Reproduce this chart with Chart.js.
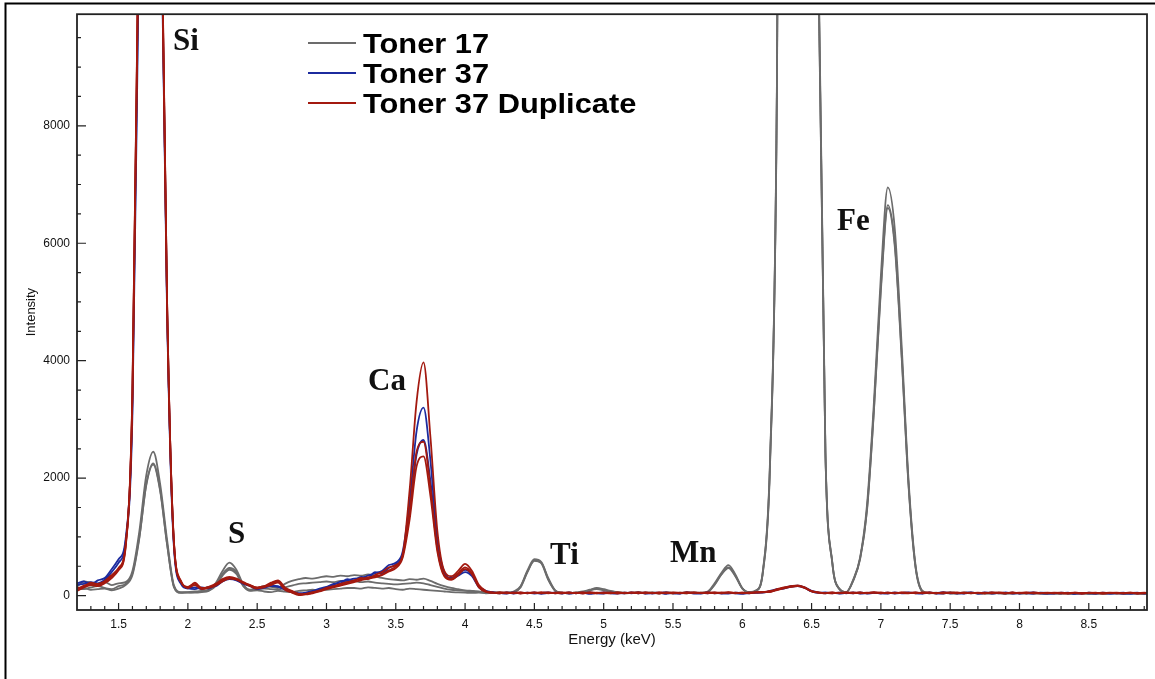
<!DOCTYPE html>
<html>
<head>
<meta charset="utf-8">
<title>Toner XRF spectra</title>
<script src="https://cdn.jsdelivr.net/npm/chart.js@4.4.0/dist/chart.umd.min.js"></script>
<style>
  html, body { margin: 0; padding: 0; background: #fff; }
  #spectrum { display: block; }
</style>
</head>
<body>
<canvas id="spectrum" width="1155" height="679"></canvas>
<script>
// energy grid shared by every run (keV)
const energyKeV = [
  1.20, 1.25, 1.30, 1.35, 1.40, 1.45, 1.50, 1.55, 1.60, 1.65,
  1.70, 1.75, 1.80, 1.85, 1.90, 1.95, 2.00, 2.05, 2.10, 2.15,
  2.20, 2.25, 2.30, 2.35, 2.40, 2.45, 2.50, 2.55, 2.60, 2.65,
  2.70, 2.75, 2.80, 2.85, 2.90, 2.95, 3.00, 3.05, 3.10, 3.15,
  3.20, 3.25, 3.30, 3.35, 3.40, 3.45, 3.50, 3.55, 3.60, 3.65,
  3.70, 3.75, 3.80, 3.85, 3.90, 3.95, 4.00, 4.05, 4.10, 4.15,
  4.20, 4.25, 4.30, 4.35, 4.40, 4.45, 4.50, 4.55, 4.60, 4.65,
  4.70, 4.75, 4.80, 4.85, 4.90, 4.95, 5.00, 5.05, 5.10, 5.15,
  5.20, 5.25, 5.30, 5.35, 5.40, 5.45, 5.50, 5.55, 5.60, 5.65,
  5.70, 5.75, 5.80, 5.85, 5.90, 5.95, 6.00, 6.05, 6.10, 6.15,
  6.20, 6.25, 6.30, 6.35, 6.40, 6.45, 6.50, 6.55, 6.60, 6.65,
  6.70, 6.75, 6.80, 6.85, 6.90, 6.95, 7.00, 7.05, 7.10, 7.15,
  7.20, 7.25, 7.30, 7.35, 7.40, 7.45, 7.50, 7.55, 7.60, 7.65,
  7.70, 7.75, 7.80, 7.85, 7.90, 7.95, 8.00, 8.05, 8.10, 8.15,
  8.20, 8.25, 8.30, 8.35, 8.40, 8.45, 8.50, 8.55, 8.60, 8.65,
  8.70, 8.75, 8.80, 8.85, 8.90, 8.95,
];

// Toner 17 runs
const toner17A = [
  150, 240, 220, 200, 230, 180, 210, 230, 420, 1100,
  2050, 2450, 1900, 950, 170, 60, 60, 70, 80, 100,
  210, 420, 560, 440, 190, 100, 130, 160, 150, 130,
  200, 250, 280, 300, 290, 310, 330, 320, 340, 330,
  350, 340, 360, 330, 300, 280, 270, 260, 280, 270,
  290, 250, 200, 160, 130, 110, 90, 80, 70, 60,
  50, 60, 45, 70, 160, 430, 620, 570, 300, 90,
  50, 40, 55, 70, 100, 130, 110, 80, 60, 50,
  45, 60, 40, 50, 35, 55, 45, 40, 60, 45,
  50, 70, 210, 390, 520, 360, 130, 60, 90, 450,
  2300, 8800, 32000, 52000, 58000, 46000, 24000, 10800, 2450, 560,
  120, 60, 270, 650, 1550, 3300, 5450, 6950, 6250, 4250,
  1950, 520, 80, 40, 50, 35, 55, 45, 40, 50,
  35, 45, 50, 40, 30, 45, 40, 35, 50, 40,
  30, 45, 35, 40, 30, 45, 35, 30, 40, 35,
  45, 30, 40, 35, 30, 40,
];
const toner17B = [
  120, 110, 140, 160, 130, 110, 160, 200, 380, 1000,
  1900, 2250, 1800, 880, 150, 50, 50, 60, 70, 90,
  180, 370, 470, 400, 170, 90, 110, 120, 110, 100,
  140, 170, 200, 210, 220, 230, 240, 230, 250, 240,
  250, 230, 240, 220, 210, 200, 190, 200, 210, 220,
  210, 180, 150, 120, 100, 90, 80, 70, 60, 50,
  55, 45, 50, 60, 140, 400, 590, 560, 280, 80,
  40, 50, 45, 60, 90, 120, 100, 70, 55, 45,
  50, 40, 55, 45, 40, 50, 35, 50, 45, 55,
  45, 60, 180, 360, 470, 330, 120, 55, 80, 420,
  2200, 8600, 31000, 51000, 57000, 45000, 23500, 10500, 2380, 540,
  110, 55, 250, 620, 1450, 3150, 5200, 6600, 5950, 4050,
  1850, 480, 70, 45, 40, 50, 35, 40, 55, 45,
  40, 35, 45, 50, 40, 35, 45, 40, 35, 45,
  40, 35, 45, 30, 40, 35, 40, 45, 30, 40,
  35, 40, 30, 45, 35, 35,
];
const toner17C = [
  90, 130, 100, 110, 120, 90, 120, 180, 350, 980,
  1880, 2230, 1780, 870, 140, 45, 55, 50, 60, 80,
  160, 340, 440, 370, 160, 80, 90, 70, 60, 80,
  70, 60, 80, 90, 100, 90, 100, 110, 120, 130,
  130, 120, 140, 130, 120, 130, 110, 100, 120, 110,
  100, 90, 80, 70, 60, 55, 50, 45, 50, 40,
  45, 40, 50, 55, 150, 410, 600, 550, 270, 85,
  45, 40, 50, 55, 95, 110, 90, 65, 50, 40,
  45, 50, 40, 55, 45, 40, 50, 45, 40, 50,
  40, 55, 190, 370, 480, 340, 125, 50, 85, 430,
  2250, 8700, 31500, 51500, 57500, 45500, 23700, 10600, 2400, 550,
  115, 58, 260, 630, 1480, 3180, 5250, 6650, 6000, 4100,
  1880, 490, 75, 40, 45, 40, 50, 35, 45, 40,
  45, 40, 35, 45, 40, 50, 35, 45, 40, 35,
  35, 40, 30, 45, 35, 40, 30, 40, 35, 45,
  40, 35, 45, 30, 40, 35,
];

// Toner 37 runs
const toner37A = [
  210, 240, 190, 260, 300, 450, 620, 950, 3300, 12000,
  19500, 21000, 13200, 4900, 850, 220, 130, 110, 140, 120,
  180, 260, 300, 270, 210, 170, 120, 130, 170, 160,
  110, 70, 40, 50, 80, 120, 150, 180, 240, 260,
  290, 300, 340, 380, 420, 520, 560, 750, 1600, 2800,
  3200, 2300, 950, 400, 300, 370, 440, 360, 160, 80,
  60, 40, 55, 35, 50, 40, 55, 30, 45, 50,
  35, 55, 40, 50, 30, 45, 55, 40, 35, 50,
  40, 55, 35, 45, 50, 30, 45, 40, 55, 35,
  45, 40, 50, 35, 45, 40, 30, 50, 45, 60,
  70, 100, 130, 160, 170, 140, 80, 55, 40, 50,
  35, 45, 40, 55, 35, 45, 40, 50, 35, 45,
  55, 40, 35, 50, 45, 60, 40, 45, 35, 50,
  40, 55, 35, 45, 40, 50, 35, 45, 55, 40,
  35, 45, 40, 50, 30, 45, 40, 35, 50, 40,
  45, 35, 40, 50, 35, 45,
];
const toner37B = [
  180, 200, 230, 210, 270, 400, 560, 900, 3100, 11500,
  19000, 20500, 13000, 4800, 800, 200, 120, 140, 110, 150,
  160, 240, 280, 260, 200, 160, 110, 150, 160, 150,
  100, 60, 30, 40, 70, 100, 140, 200, 210, 280,
  260, 320, 300, 400, 380, 470, 530, 700, 1400, 2400,
  2650, 1950, 850, 380, 280, 340, 400, 330, 140, 70,
  50, 45, 35, 55, 40, 50, 35, 45, 55, 40,
  50, 35, 45, 40, 55, 40, 35, 50, 45, 40,
  55, 40, 50, 35, 45, 55, 40, 35, 50, 45,
  35, 55, 40, 45, 35, 50, 45, 40, 55, 50,
  80, 110, 120, 150, 160, 130, 70, 45, 55, 40,
  50, 40, 55, 35, 45, 50, 40, 35, 55, 40,
  45, 50, 40, 55, 35, 40, 50, 35, 45, 55,
  35, 45, 50, 40, 55, 35, 45, 40, 35, 50,
  45, 35, 50, 40, 45, 35, 50, 40, 45, 35,
  40, 50, 35, 40, 45, 40,
];

// Toner 37 duplicate runs
const toner37DupA = [
  100, 170, 200, 180, 230, 330, 450, 820, 3500, 12500,
  20000, 21500, 13500, 5000, 900, 250, 140, 220, 120, 150,
  200, 280, 320, 290, 220, 180, 130, 140, 200, 240,
  120, 60, 20, 30, 60, 80, 130, 160, 200, 230,
  250, 300, 280, 350, 400, 480, 520, 700, 1800, 3300,
  3970, 2700, 1100, 420, 330, 420, 540, 420, 180, 80,
  45, 60, 40, 55, 35, 50, 45, 60, 40, 50,
  55, 40, 50, 35, 60, 45, 40, 55, 35, 50,
  45, 60, 40, 50, 35, 55, 45, 40, 60, 45,
  50, 40, 55, 45, 60, 40, 50, 45, 55, 65,
  60, 110, 140, 160, 175, 140, 75, 50, 45, 55,
  40, 50, 45, 55, 40, 60, 45, 50, 40, 55,
  45, 55, 40, 50, 45, 40, 55, 45, 50, 40,
  50, 40, 55, 45, 40, 50, 45, 55, 40, 45,
  40, 50, 45, 35, 50, 40, 45, 50, 35, 45,
  50, 40, 45, 40, 50, 40,
];
const toner37DupB = [
  130, 150, 220, 200, 250, 350, 470, 850, 3400, 12300,
  19800, 21200, 13300, 4950, 880, 230, 150, 200, 130, 140,
  190, 250, 300, 280, 230, 170, 140, 160, 220, 260,
  140, 80, 30, 20, 50, 90, 120, 150, 180, 220,
  260, 280, 310, 330, 360, 430, 500, 680, 1450, 2450,
  2620, 1850, 800, 350, 290, 380, 480, 380, 150, 70,
  55, 40, 50, 45, 55, 40, 50, 45, 55, 40,
  45, 55, 40, 50, 45, 40, 55, 45, 50, 40,
  55, 45, 50, 40, 55, 45, 40, 50, 45, 55,
  45, 50, 40, 55, 45, 50, 40, 55, 50, 60,
  80, 100, 130, 150, 165, 135, 70, 55, 40, 50,
  45, 55, 40, 50, 45, 55, 40, 50, 45, 50,
  50, 40, 55, 45, 40, 55, 45, 40, 50, 45,
  45, 50, 40, 55, 45, 40, 50, 40, 55, 45,
  45, 40, 50, 40, 45, 35, 50, 45, 40, 50,
  40, 45, 50, 35, 45, 40,
];
const toner37DupC = [
  80, 140, 180, 160, 210, 300, 430, 800, 3450, 12400,
  19900, 21300, 13400, 5000, 870, 240, 130, 180, 110, 130,
  170, 240, 290, 270, 210, 160, 120, 150, 180, 220,
  100, 50, 10, 25, 40, 70, 110, 140, 170, 200,
  230, 260, 290, 310, 350, 410, 470, 650, 1300, 2200,
  2370, 1700, 750, 330, 270, 350, 450, 360, 140, 65,
  50, 45, 55, 40, 50, 45, 55, 40, 50, 45,
  40, 50, 45, 55, 40, 50, 45, 40, 55, 45,
  50, 40, 55, 45, 50, 40, 55, 45, 40, 50,
  45, 55, 50, 40, 55, 45, 50, 40, 60, 55,
  70, 95, 125, 155, 160, 130, 75, 50, 45, 40,
  50, 45, 55, 40, 50, 45, 55, 40, 50, 45,
  40, 50, 45, 55, 40, 50, 45, 55, 40, 50,
  45, 40, 50, 45, 40, 55, 40, 50, 45, 40,
  50, 45, 40, 45, 50, 40, 45, 40, 50, 45,
  45, 40, 50, 45, 40, 45,
];

const xTickValues = [1.5, 2, 2.5, 3, 3.5, 4, 4.5, 5, 5.5, 6, 6.5, 7, 7.5, 8, 8.5];
const yTickValues = [0, 2000, 4000, 6000, 8000];

const seriesNames = ['Toner 17', 'Toner 37', 'Toner 37 Duplicate'];

// element labels, anchored at the baseline-left of each word
const peakLabels = ['Si', 'S', 'Ca', 'Ti', 'Mn', 'Fe'];
const peakLabelEnergy = [1.893, 2.289, 3.30, 4.613, 5.478, 6.683];
const peakLabelIntensity = [9283, 895, 3493, 546, 571, 6226];

const colorPalette = {
  toner17: '#6c6c6c',
  toner37: '#1c2b9e',
  toner37Dup: '#a3190f',
  frame: '#222',
  text: '#111',
};

const sansFont = '"Liberation Sans", Arial, Helvetica, sans-serif';
const serifFont = '"Liberation Serif", "Times New Roman", serif';

Chart.defaults.font.family = sansFont;
Chart.defaults.color = colorPalette.text;

function toPoints(values) {
  return energyKeV.map((x, i) => ({ x, y: values[i] }));
}

function makeRun(label, values, color, order) {
  return {
    label,
    data: toPoints(values),
    borderColor: color,
    backgroundColor: color,
    borderWidth: 1.8,
    pointRadius: 0,
    cubicInterpolationMode: 'monotone',
    fill: false,
    order,
  };
}

const seriesColors = [colorPalette.toner17, colorPalette.toner37, colorPalette.toner37Dup];

// lower order is painted on top: duplicate over toner 37 over toner 17
const datasets = [
  makeRun(seriesNames[2], toner37DupA, colorPalette.toner37Dup, 0),
  makeRun(seriesNames[2], toner37DupB, colorPalette.toner37Dup, 0),
  makeRun(seriesNames[2], toner37DupC, colorPalette.toner37Dup, 0),
  makeRun(seriesNames[1], toner37A, colorPalette.toner37, 1),
  makeRun(seriesNames[1], toner37B, colorPalette.toner37, 1),
  makeRun(seriesNames[0], toner17A, colorPalette.toner17, 2),
  makeRun(seriesNames[0], toner17B, colorPalette.toner17, 2),
  makeRun(seriesNames[0], toner17C, colorPalette.toner17, 2),
];

const spectrumDecor = {
  id: 'spectrumDecor',
  afterDraw(chart) {
    const { ctx, chartArea: area, scales: { x, y } } = chart;
    ctx.save();

    // page border, only its left and top edges fall inside the picture
    ctx.strokeStyle = '#000';
    ctx.lineWidth = 2;
    ctx.beginPath();
    ctx.moveTo(5.5, chart.height);
    ctx.lineTo(5.5, 3.5);
    ctx.lineTo(chart.width, 3.5);
    ctx.stroke();

    // plot frame
    ctx.strokeStyle = colorPalette.frame;
    ctx.lineWidth = 1.8;
    ctx.strokeRect(area.left, area.top, area.right - area.left, area.bottom - area.top);

    // inward major/minor ticks
    ctx.lineWidth = 1.2;
    ctx.beginPath();
    for (let k = 13; k <= 89; k++) {
      const px = x.getPixelForValue(k / 10);
      const len = k % 5 === 0 ? 7 : 4;
      ctx.moveTo(px, area.bottom);
      ctx.lineTo(px, area.bottom - len);
    }
    for (let k = 0; k <= 19; k++) {
      const py = y.getPixelForValue(k * 500);
      const len = k % 4 === 0 ? 9 : 4;
      ctx.moveTo(area.left, py);
      ctx.lineTo(area.left + len, py);
    }
    ctx.stroke();

    // element labels
    ctx.fillStyle = colorPalette.text;
    ctx.font = `bold 31px ${serifFont}`;
    ctx.textAlign = 'left';
    ctx.textBaseline = 'alphabetic';
    peakLabels.forEach((text, i) => {
      ctx.fillText(text, x.getPixelForValue(peakLabelEnergy[i]), y.getPixelForValue(peakLabelIntensity[i]));
    });

    // legend
    const legendLeft = 308;
    const legendTop = 43;
    const rowGap = 30;
    seriesNames.forEach((name, i) => {
      const rowY = legendTop + i * rowGap;
      ctx.strokeStyle = seriesColors[i];
      ctx.lineWidth = 2;
      ctx.beginPath();
      ctx.moveTo(legendLeft, rowY);
      ctx.lineTo(legendLeft + 48, rowY);
      ctx.stroke();

      ctx.save();
      ctx.translate(legendLeft + 55, rowY + 10);
      ctx.scale(1.1, 1);
      ctx.font = `bold 28px ${sansFont}`;
      ctx.fillStyle = '#000';
      ctx.fillText(name, 0, 0);
      ctx.restore();
    });

    ctx.restore();
  },
};

const ctx = document.getElementById('spectrum');

new Chart(ctx, {
  type: 'line',
  data: { datasets },
  options: {
    responsive: false,
    devicePixelRatio: 1,
    animation: false,
    layout: { padding: { left: 0, right: 8, top: 12, bottom: 0 } },
    plugins: {
      legend: { display: false },
      tooltip: { enabled: false },
    },
    scales: {
      x: {
        type: 'linear',
        min: 1.2,
        max: 8.92,
        afterBuildTicks: (scale) => { scale.ticks = xTickValues.map((value) => ({ value })); },
        afterFit: (scale) => { scale.height = 69; },
        grid: { display: false, drawTicks: false },
        border: { display: false },
        ticks: {
          padding: 7,
          autoSkip: false,
          maxRotation: 0,
          font: { size: 12 },
          color: '#111',
          callback: (value) => String(value),
        },
        title: {
          display: true,
          text: 'Energy (keV)',
          font: { size: 15 },
          color: '#111',
          padding: { top: 0, bottom: 30 },
        },
      },
      y: {
        type: 'linear',
        min: -245,
        max: 9900,
        afterBuildTicks: (scale) => { scale.ticks = yTickValues.map((value) => ({ value })); },
        afterFit: (scale) => { scale.width = 77; },
        grid: { display: false, drawTicks: false },
        border: { display: false },
        ticks: {
          padding: 7,
          font: { size: 12 },
          color: '#111',
          callback: (value) => String(value),
        },
        title: {
          display: true,
          text: 'Intensity',
          font: { size: 13 },
          color: '#111',
          padding: { top: 24, bottom: 0 },
        },
      },
    },
  },
  plugins: [spectrumDecor],
});
</script>
</body>
</html>
